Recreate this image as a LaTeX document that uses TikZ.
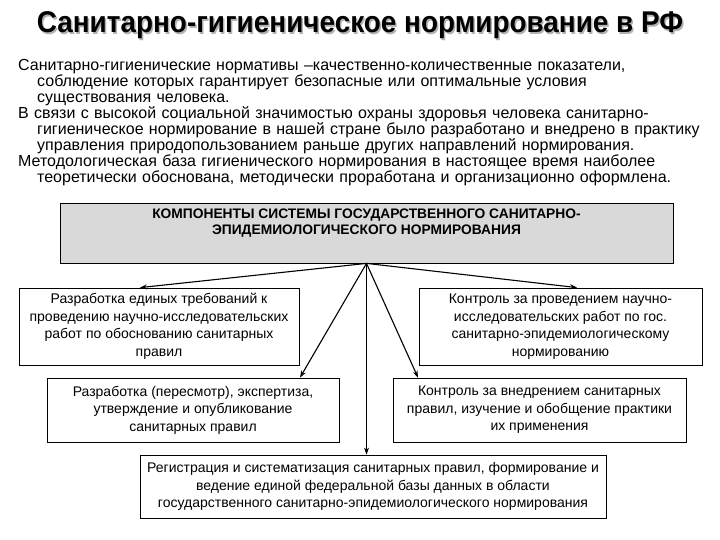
\documentclass[tikz,border=0pt]{standalone}
\usepackage{fontspec}
\setmainfont{Liberation Sans}
\newfontfamily\titlefont[FakeStretch=0.93]{Liberation Sans}
\usetikzlibrary{arrows.meta,positioning}

\newcommand{\contline}{\\\hspace*{19pt}}

\begin{document}
\begin{tikzpicture}[
    x=1pt, y=-1pt,
    font=\fontsize{14}{17.5}\selectfont,
    box/.style={draw, line width=0.8pt, fill=white, align=center, inner sep=0pt},
    headbox/.style={draw, line width=0.8pt, fill=black!15, minimum width=613pt, minimum height=60pt},
    arr/.style={-{Stealth[length=7pt,width=5pt]}, line width=1.1pt}
]
\useasboundingbox (0,0) rectangle (720,540);

% title with its shadow
\node[anchor=base, font=\fontsize{30}{32}\titlefont\bfseries, text=black!30] at (361.5,34.5) {Санитарно-гигиеническое нормирование в РФ};
\node[anchor=base, font=\fontsize{30}{32}\titlefont\bfseries] (title) at (360,33) {Санитарно-гигиеническое нормирование в РФ};

% introduction
\node[anchor=north west, inner sep=0pt, text width=702pt, align=left, font=\fontsize{16}{16}\selectfont] (intro) at (18,59) {%
Санитарно-гигиенические нормативы –качественно-количественные показатели,\contline
соблюдение которых гарантирует безопасные или оптимальные условия\contline
существования человека.\\
В связи с высокой социальной значимостью охраны здоровья человека санитарно-\contline
гигиеническое нормирование в нашей стране было разработано и внедрено в практику\contline
управления природопользованием раньше других направлений нормирования.\\
Методологическая база гигиенического нормирования в настоящее время наиболее\contline
теоретически обоснована, методически проработана и организационно оформлена.};

% components
\node[headbox] (comp) at (366.5,233) {};
\node[below=6pt of comp.north, inner sep=0pt, align=center, font=\fontsize{13.8}{16}\selectfont\bfseries] (comptxt) {КОМПОНЕНТЫ СИСТЕМЫ ГОСУДАРСТВЕННОГО САНИТАРНО-\\ЭПИДЕМИОЛОГИЧЕСКОГО НОРМИРОВАНИЯ};

\node[box, minimum width=280pt, minimum height=77pt] (dev) at (159,326.5) {Разработка единых требований к\\проведению научно-исследовательских\\работ по обоснованию санитарных\\правил};
\node[box, minimum width=283pt, minimum height=77pt] (ctrl) at (560.5,326.5) {Контроль за проведением научно-\\исследовательских работ по гос.\\санитарно-эпидемиологическому\\нормированию};
\node[box, minimum width=292pt, minimum height=64pt] (expert) at (193,410) {Разработка (пересмотр), экспертиза,\\утверждение и опубликование\\санитарных правил};
\node[box, minimum width=293pt, minimum height=64pt] (impl) at (539.5,410) {Контроль за внедрением санитарных\\правил, изучение и обобщение практики\\их применения};
\node[box, minimum width=466pt, minimum height=63pt] (reg) at (373,486.5) {Регистрация и систематизация санитарных правил, формирование и\\ведение единой федеральной базы данных в области\\государственного санитарно-эпидемиологического нормирования};

\foreach \t/\x in {dev/140, ctrl/577, expert/300, impl/418}
  \draw[arr] (comp.south) -- (\t.north -| \x,0);
\draw[arr, line width=0.8pt] (comp.south) -- (reg.north -| comp.south);
\end{tikzpicture}
\end{document}
